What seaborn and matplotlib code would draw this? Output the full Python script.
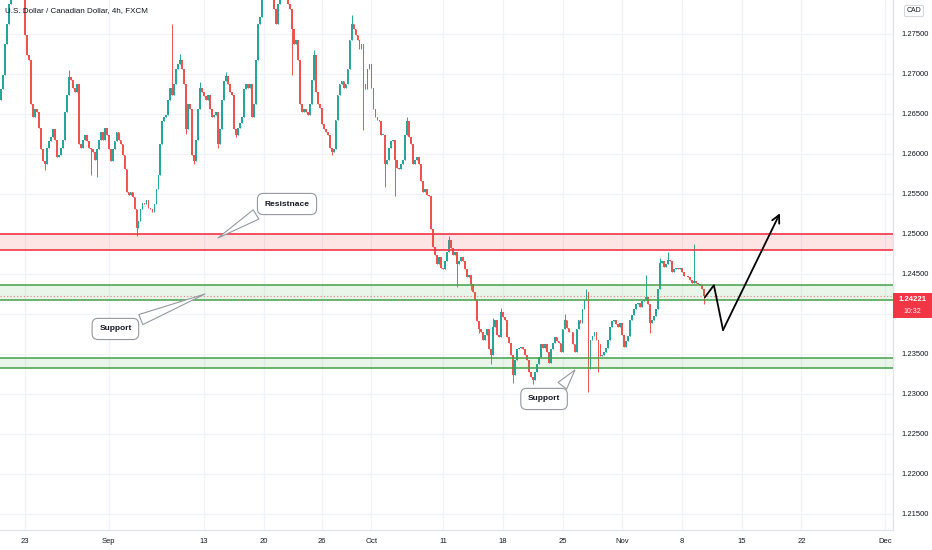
import numpy as np
import pandas as pd
import matplotlib
matplotlib.use("Agg")
import matplotlib.pyplot as plt
import matplotlib.transforms as mtransforms
from matplotlib.patches import Rectangle
import seaborn as sns

# 4h closes of USD/CAD (FXCM), one per bar
closes = [
    1.2681, 1.2699, 1.2737, 1.2762, 1.2787, 1.2806, 1.2818, 1.2830, 1.2824, 1.2837,
    1.2830, 1.2818, 1.2749, 1.2724, 1.2718, 1.2662, 1.2646, 1.2656, 1.2653, 1.2633,
    1.2606, 1.2591, 1.2587, 1.2608, 1.2616, 1.2621, 1.2631, 1.2618, 1.2596, 1.2599,
    1.2608, 1.2618, 1.2653, 1.2674, 1.2696, 1.2693, 1.2683, 1.2678, 1.2687, 1.2612,
    1.2608, 1.2618, 1.2624, 1.2616, 1.2608, 1.2606, 1.2603, 1.2593, 1.2606, 1.2618,
    1.2627, 1.2618, 1.2633, 1.2624, 1.2606, 1.2591, 1.2606, 1.2616, 1.2627, 1.2618,
    1.2612, 1.2599, 1.2581, 1.2553, 1.2549, 1.2553, 1.2546, 1.2531, 1.2508, 1.2516,
    1.2531, 1.2539, 1.2537, 1.2543, 1.2533, 1.2531, 1.2528, 1.2537, 1.2556, 1.2574,
    1.2612, 1.2641, 1.2646, 1.2649, 1.2668, 1.2683, 1.2674, 1.2687, 1.2706, 1.2712,
    1.2718, 1.2706, 1.2687, 1.2631, 1.2662, 1.2656, 1.2599, 1.2591, 1.2618, 1.2656,
    1.2683, 1.2678, 1.2672, 1.2668, 1.2674, 1.2656, 1.2646, 1.2649, 1.2652, 1.2612,
    1.2631, 1.2668, 1.2691, 1.2697, 1.2687, 1.2677, 1.2674, 1.2631, 1.2624, 1.2633,
    1.2639, 1.2646, 1.2681, 1.2687, 1.2683, 1.2687, 1.2646, 1.2662, 1.2718, 1.2762,
    1.2771, 1.2799, 1.2818, 1.2830, 1.2824, 1.2812, 1.2799, 1.2781, 1.2762, 1.2787,
    1.2806, 1.2818, 1.2812, 1.2799, 1.2787, 1.2781, 1.2756, 1.2737, 1.2743, 1.2718,
    1.2662, 1.2653, 1.2656, 1.2653, 1.2649, 1.2662, 1.2693, 1.2724, 1.2678, 1.2662,
    1.2658, 1.2637, 1.2631, 1.2628, 1.2624, 1.2608, 1.2603, 1.2606, 1.2643, 1.2674,
    1.2687, 1.2691, 1.2683, 1.2687, 1.2706, 1.2743, 1.2762, 1.2756, 1.2749, 1.2743,
    1.2731, 1.2737, 1.2687, 1.2681, 1.2706, 1.2712, 1.2683, 1.2656, 1.2646, 1.2643,
    1.2641, 1.2624, 1.2624, 1.2587, 1.2593, 1.2608, 1.2616, 1.2618, 1.2593, 1.2583,
    1.2581, 1.2587, 1.2593, 1.2624, 1.2641, 1.2621, 1.2612, 1.2587, 1.2593, 1.2596,
    1.2587, 1.2566, 1.2553, 1.2556, 1.2549, 1.2547, 1.2506, 1.2484, 1.2474, 1.2462,
    1.2471, 1.2458, 1.2456, 1.2466, 1.2477, 1.2493, 1.2483, 1.2474, 1.2478, 1.2462,
    1.2466, 1.2471, 1.2466, 1.2456, 1.2446, 1.2449, 1.2437, 1.2428, 1.2418, 1.2391,
    1.2381, 1.2378, 1.2368, 1.2374, 1.2381, 1.2356, 1.2349, 1.2384, 1.2393, 1.2374,
    1.2371, 1.2403, 1.2396, 1.2393, 1.2371, 1.2364, 1.2349, 1.2324, 1.2343, 1.2356,
    1.2358, 1.2359, 1.2356, 1.2349, 1.2343, 1.2328, 1.2321, 1.2318, 1.2328, 1.2337,
    1.2346, 1.2362, 1.2358, 1.2362, 1.2353, 1.2339, 1.2356, 1.2364, 1.2371, 1.2366,
    1.2364, 1.2352, 1.2381, 1.2393, 1.2383, 1.2378, 1.2377, 1.2362, 1.2352, 1.2381,
    1.2393, 1.2389, 1.2406, 1.2418, 1.2427, 1.2331, 1.2368, 1.2372, 1.2377, 1.2368,
    1.2362, 1.2347, 1.2349, 1.2352, 1.2358, 1.2368, 1.2384, 1.2391, 1.2393, 1.2387,
    1.2384, 1.2389, 1.2374, 1.2359, 1.2366, 1.2372, 1.2393, 1.2399, 1.2406, 1.2412,
    1.2414, 1.2409, 1.2416, 1.2418, 1.2421, 1.2412, 1.2389, 1.2393, 1.2397, 1.2406,
    1.2431, 1.2464, 1.2466, 1.2459, 1.2462, 1.2468, 1.2466, 1.2452, 1.2456, 1.2458,
    1.2456, 1.2458, 1.2452, 1.2447, 1.2448, 1.2446, 1.2443, 1.2439, 1.2441, 1.2439,
    1.2437, 1.2436, 1.2431, 1.24221,
]
first_open = 1.2668

# wicks that stick out of the bodies (bar number -> price)
wick_highs = {34: 1.2705, 86: 1.2762, 90: 1.2725, 100: 1.2690, 113: 1.2702,
              157: 1.2730, 176: 1.2774, 204: 1.2646, 225: 1.2498, 247: 1.2395,
              251: 1.2408, 283: 1.2400, 294: 1.2431, 324: 1.2449, 331: 1.2470,
              335: 1.2478, 348: 1.2487}
wick_lows = {22: 1.2580, 45: 1.2574, 48: 1.2571, 68: 1.2498, 93: 1.2625,
             97: 1.2587, 109: 1.2608, 118: 1.2621, 146: 1.2699, 166: 1.2599,
             182: 1.2630, 193: 1.2559, 198: 1.2547, 229: 1.2434, 236: 1.2430,
             240: 1.2376, 246: 1.2337, 257: 1.2314, 267: 1.2312, 295: 1.2302,
             300: 1.2328, 326: 1.2376, 353: 1.2412}

resistance_zone = (1.2480, 1.2500)
support_zones = [(1.24175, 1.24363), (1.23325, 1.2345)]
last_price = 1.24221
countdown = "10:32"

price_ticks = [1.215, 1.220, 1.225, 1.230, 1.235, 1.240, 1.245,
               1.250, 1.255, 1.260, 1.265, 1.270, 1.275]
tick_dates = ["2021-08-23", "2021-09-01", "2021-09-13", "2021-09-20", "2021-09-26",
              "2021-10-01", "2021-10-11", "2021-10-18", "2021-10-25", "2021-11-01",
              "2021-11-08", "2021-11-15", "2021-11-22", "2021-12-01"]
tick_labels = ["23", "Sep", "13", "20", "26", "Oct", "11", "18", "25", "Nov",
               "8", "15", "22", "Dec"]

# drawn projection (bar number, price)
projection_bars = [353.5, 358.0, 362.6, 391.2]
projection_prices = [1.2421, 1.2436, 1.2380, 1.2526]

# callouts: text, box (bar, price), tip (bar, price), where the tail leaves the box
callouts = [
    ("Resistnace", (143.6, 1.25375), (108.9, 1.2495), (0.1, 0.15)),
    ("Support", (57.4, 1.23813), (102.4, 1.2425), (0.75, 0.85)),
    ("Support", (272.7, 1.22938), (288.2, 1.2330), (0.8, 0.85)),
]

UP = "#26a69a"
DOWN = "#ef5350"
TEXT = "#131722"

sns.set_style("white")
plt.rcParams["font.family"] = ["Liberation Sans", "DejaVu Sans"]

fig = plt.figure(figsize=(9.32, 5.5), dpi=100)
ax = fig.add_axes([0, 20 / 550, 893 / 932, 530 / 550])

# candles
c = np.array(closes)
o = np.r_[first_open, c[:-1]]
idx = np.arange(len(c))
colors = np.where(c >= o, UP, DOWN)
body_lo = np.minimum(o, c)
body_hi = np.maximum(o, c)
ax.bar(idx, np.maximum(body_hi - body_lo, 0.00005), bottom=body_lo, width=0.9,
       color=colors, linewidth=0, zorder=2)
highs = body_hi.copy()
lows = body_lo.copy()
for k, v in wick_highs.items():
    highs[k] = v
for k, v in wick_lows.items():
    lows[k] = v
ax.vlines(idx, lows, highs, colors=colors, linewidth=0.7, zorder=2)

# zones
ax.axhspan(*resistance_zone, color="#f23645", alpha=0.13, lw=0, zorder=3)
for y in resistance_zone:
    ax.axhline(y, color="#f23645", lw=1.2, zorder=4)
for lo, hi in support_zones:
    ax.axhspan(lo, hi, color="#4caf50", alpha=0.12, lw=0, zorder=3)
    ax.axhline(lo, color="#43a047", lw=1.1, zorder=4)
    ax.axhline(hi, color="#43a047", lw=1.1, zorder=4)

# last price line
ax.axhline(last_price, color="#ef5350", lw=0.8, ls=(0, (1, 2)), alpha=0.7, zorder=4)

# projection
sns.lineplot(x=projection_bars[:-1], y=projection_prices[:-1], sort=False,
             estimator=None, color="black", lw=1.3, ax=ax, zorder=6)
ax.annotate("", xy=(projection_bars[-1], projection_prices[-1]),
            xytext=(projection_bars[-2], projection_prices[-2]),
            arrowprops=dict(arrowstyle="->", color="black", lw=1.3,
                            mutation_scale=14, shrinkA=0, shrinkB=0), zorder=6)

# callouts
for text, box, tip, rel in callouts:
    ax.annotate(text, xy=tip, xytext=box, ha="center", va="center",
                fontsize=6, fontweight="bold", color=TEXT, zorder=7,
                bbox=dict(boxstyle="round,pad=0.85,rounding_size=0.7", fc="white",
                          ec="#9598a1", lw=0.8),
                arrowprops=dict(arrowstyle="wedge,tail_width=1.3", fc="white",
                                ec="#9598a1", lw=0.8, relpos=rel, shrinkB=0))

# axes
days = pd.bdate_range("2021-08-19", "2021-12-10")
tick_pos = []
for d in pd.to_datetime(tick_dates):
    p = days.searchsorted(d) * 6
    if d.weekday() == 6:
        p -= 1
    tick_pos.append(p)

ax.set_xlim(-0.56, 447.96)
ax.set_ylim(1.2130, 1.27925)
ax.set_xticks(tick_pos)
ax.set_xticklabels(tick_labels)
ax.yaxis.tick_right()
ax.set_yticks(price_ticks)
ax.set_yticklabels([f"{v:.5f}" for v in price_ticks])
ax.tick_params(axis="y", length=0, pad=6, labelsize=5.5, labelcolor=TEXT)
ax.tick_params(axis="x", length=0, pad=6, labelsize=5.5, labelcolor=TEXT)
ax.grid(True, color="#f0f3fa", lw=0.9, zorder=0)
ax.set_axisbelow(True)
for side in ["top", "left"]:
    ax.spines[side].set_visible(False)
for side in ["right", "bottom"]:
    ax.spines[side].set_color("#e0e3eb")
    ax.spines[side].set_linewidth(0.9)
ax.set_xlabel("")
ax.set_ylabel("")

ax.text(5 / 893, 1 - 11 / 530, "U.S. Dollar / Canadian Dollar, 4h, FXCM",
        transform=ax.transAxes, fontsize=5.8, color=TEXT, va="center", ha="left")

# price label on the scale
px = 0.000125
trans = mtransforms.blended_transform_factory(ax.transAxes, ax.transData)
ax.add_patch(Rectangle((1.0, last_price - 22 * px), 39 / 893, 25 * px,
                       transform=trans, clip_on=False, fc="#f23645", ec="none", zorder=8))
ax.text(1.0 + 19.5 / 893, last_price - 3 * px, f"{last_price:.5f}", transform=trans,
        ha="center", va="center", fontsize=5.6, color="white", fontweight="bold",
        clip_on=False, zorder=9)
ax.text(1.0 + 19.5 / 893, last_price - 15.5 * px, countdown, transform=trans,
        ha="center", va="center", fontsize=5, color="white", clip_on=False, zorder=9)

fig.text(914 / 932, 1 - 11 / 550, "CAD", ha="center", va="center", fontsize=5,
         color=TEXT, bbox=dict(boxstyle="round,pad=0.3,rounding_size=0.2",
                               fc="white", ec="#d1d4dc", lw=0.7))

fig.savefig("out.png", dpi=100)
